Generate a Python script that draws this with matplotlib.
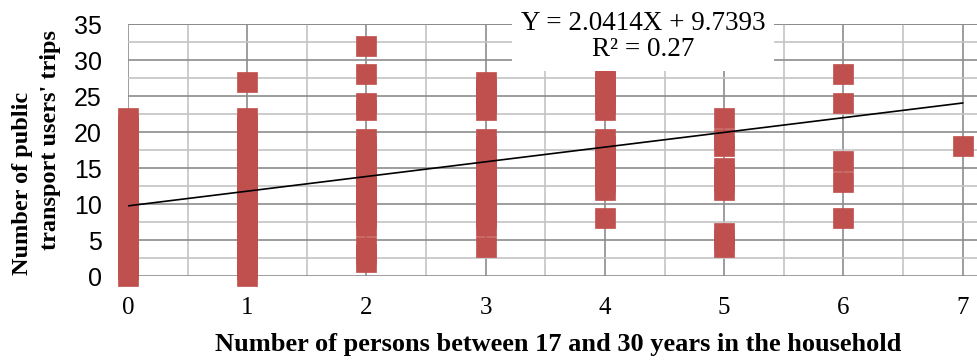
import numpy as np
import matplotlib.pyplot as plt
from matplotlib.ticker import MultipleLocator

# observed trips per household, grouped by number of persons aged 17-30
trips_0 = list(range(0, 23))
trips_1 = list(range(0, 23)) + [27]
trips_2 = [2, 3, 4] + list(range(7, 20)) + [23, 24, 28, 32]
trips_3 = [4] + list(range(7, 20)) + [23, 24, 25, 26, 27]
trips_4 = [8] + list(range(12, 20)) + [23, 24, 25, 26, 27, 28]
trips_5 = [4, 5, 6, 12, 13, 14, 15, 18, 19, 22]
trips_6 = [8, 13, 16, 24, 28]
trips_7 = [18]

groups = [trips_0, trips_1, trips_2, trips_3, trips_4, trips_5, trips_6, trips_7]
persons = np.concatenate([[i] * len(g) for i, g in enumerate(groups)])
trips = np.concatenate(groups)

# trend line reported on the chart
slope = 2.0414
intercept = 9.7393
r2 = 0.27

red = '#C0504D'
serif = 'Liberation Serif'

fig = plt.figure(figsize=(9.77, 3.6), dpi=100)
ax = fig.add_axes([128 / 977, 84 / 360, 1 - 128 / 977, 252 / 360])

ax.set_xlim(0, 7.12)
ax.set_ylim(0, 35)

ax.xaxis.set_major_locator(MultipleLocator(1))
ax.xaxis.set_minor_locator(MultipleLocator(0.5))
ax.yaxis.set_major_locator(MultipleLocator(5))
ax.yaxis.set_minor_locator(MultipleLocator(2.5))
ax.grid(which='major', color='#8C8C8C', linewidth=1.2, zorder=0)
ax.grid(which='minor', color='#C4C4C4', linewidth=1.2, zorder=0)
ax.set_axisbelow(True)
for s in ax.spines.values():
    s.set_visible(False)
ax.axhline(35, color='#8C8C8C', linewidth=1.4, zorder=0)

ax.tick_params(which='both', length=0)
ax.tick_params(axis='y', pad=19, labelsize=18)
ax.tick_params(axis='x', pad=15, labelsize=18)
for lab in ax.get_yticklabels():
    lab.set_fontfamily('Liberation Sans')
for lab in ax.get_xticklabels():
    lab.set_fontfamily(serif)

ax.plot(persons, trips, 's', color=red, markersize=15, markeredgecolor=red,
        markeredgewidth=0.5, clip_on=False, zorder=3)

xs = np.array([0, 7])
ax.plot(xs, slope * xs + intercept, color='black', linewidth=1.2, zorder=4)

ax.text(4.32, 33.2, f'Y = {slope}X + {intercept}\nR² = {r2}', ha='center', va='center',
        fontsize=19.5, family=serif, linespacing=1.05, zorder=6,
        bbox=dict(facecolor='white', edgecolor='none', pad=6))

fig.text(558 / 977, 1 - 345 / 360, 'Number of persons between 17 and 30 years in the household',
         ha='center', va='center', fontsize=19, fontweight='bold', family=serif)
fig.text(23 / 977, 1 - 183 / 360, 'Number of public', rotation=90,
         ha='center', va='center', fontsize=17.5, fontweight='bold', family=serif)
fig.text(51 / 977, 1 - 140 / 360, "transport users' trips", rotation=90,
         ha='center', va='center', fontsize=17.5, fontweight='bold', family=serif)

fig.savefig('out.png', dpi=100)
